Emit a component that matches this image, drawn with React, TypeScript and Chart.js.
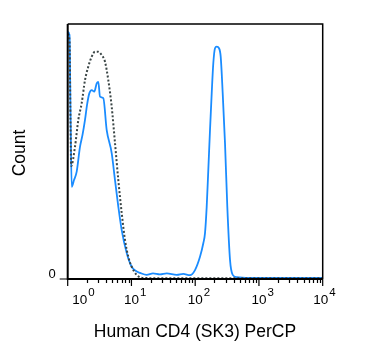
import React, { useEffect, useRef } from "react";
import { Chart, registerables } from "chart.js";

Chart.register(...registerables);

// CD4 stained (blue, solid)
const stainedX = [1.0, 1.067, 1.106, 1.155, 1.256, 1.384, 1.56, 1.707, 1.868, 2.008, 2.182, 2.379, 2.615, 2.851, 3.02, 3.211, 3.618, 4.091, 4.899, 5.521, 6.22, 7.031, 8.425, 10.09, 11.79, 13.62, 17.35, 21.78, 28.04, 35.72, 51.27, 65.07, 82.86, 99.3, 118.9, 134.0, 142.5, 151.5, 160.5, 170.7, 181.5, 192.3, 204.5, 217.4, 236.2, 251.2, 270.1, 293.5, 318.8, 351.6, 387.5, 447.7, 723.8, 3069, 10000];
const stainedY = [96.9, 95.7, 66.3, 36.1, 38.8, 42.1, 51.9, 56.5, 62.4, 68.2, 72.8, 74.1, 73.5, 76.7, 77.3, 71.5, 70.9, 58.4, 49.4, 38.8, 28.4, 19.2, 10.2, 4.8, 3.1, 2.4, 1.6, 2.2, 1.8, 2.2, 1.6, 2.0, 1.5, 3.5, 8.7, 14.0, 18.0, 28.4, 42.7, 58.4, 72.8, 84.6, 90.5, 91.1, 90.5, 87.2, 72.8, 53.2, 28.4, 7.5, 1.6, 0.7, 0.4, 0.4, 0.4];

// Control (dark, dotted)
const controlX = [1.0, 1.067, 1.106, 1.135, 1.302, 1.467, 1.658, 1.868, 2.104, 2.379, 2.681, 3.02, 3.415, 3.847, 4.334, 4.899, 5.521, 6.22, 7.031, 7.921, 8.925, 10.09, 12.09, 15.35, 28.04, 100, 1000, 10000];
const controlY = [96.1, 93.7, 62.4, 44.3, 51.9, 62.4, 69.0, 78.0, 83.3, 87.2, 89.1, 89.1, 87.8, 85.2, 78.0, 67.6, 53.3, 38.8, 25.9, 15.3, 8.7, 4.8, 1.6, 0.4, 0.3, 0.3, 0.3, 0.3];

const xTickExponents = [0, 1, 2, 3, 4];
const yTickLabels = ["0"];
const xTitle = "Human CD4 (SK3) PerCP";
const yTitle = "Count";

const FONT = "'Liberation Sans', Arial, sans-serif";

const decorPlugin = {
  id: "decor",
  afterDraw(chart: any) {
    const ctx = chart.ctx;
    const { left, right, top, bottom } = chart.chartArea;
    const xs = chart.scales.x;
    ctx.save();
    // frame
    ctx.strokeStyle = "#000";
    ctx.lineWidth = 1.5;
    ctx.beginPath();
    ctx.moveTo(left, top);
    ctx.lineTo(right, top);
    ctx.lineTo(right, bottom);
    ctx.stroke();
    ctx.lineWidth = 2;
    ctx.beginPath();
    ctx.moveTo(left, top);
    ctx.lineTo(left, bottom);
    ctx.lineTo(right, bottom);
    ctx.stroke();
    // x ticks
    ctx.lineWidth = 1.2;
    ctx.beginPath();
    for (let d = 0; d < 4; d++) {
      for (let k = 2; k <= 9; k++) {
        const px = Math.round(xs.getPixelForValue(k * Math.pow(10, d))) + 0.5;
        ctx.moveTo(px, bottom);
        ctx.lineTo(px, bottom + 4);
      }
    }
    xTickExponents.forEach((e) => {
      const px = xs.getPixelForValue(Math.pow(10, e));
      ctx.moveTo(px, bottom);
      ctx.lineTo(px, bottom + 7);
    });
    // y tick at 0
    ctx.moveTo(left - 8, bottom);
    ctx.lineTo(left, bottom);
    ctx.stroke();
    // x tick labels
    ctx.fillStyle = "#000";
    ctx.textBaseline = "alphabetic";
    xTickExponents.forEach((e, i) => {
      let cx = xs.getPixelForValue(Math.pow(10, e));
      if (i === 0) cx += 12;
      if (i === xTickExponents.length - 1) cx -= 2;
      ctx.font = `13.5px ${FONT}`;
      ctx.textAlign = "center";
      ctx.fillText("10", cx, bottom + 25);
      const w = ctx.measureText("10").width;
      ctx.font = `11.5px ${FONT}`;
      ctx.textAlign = "left";
      ctx.fillText(String(e), cx + w / 2 + 1, bottom + 17);
    });
    // y tick label
    ctx.font = `13px ${FONT}`;
    ctx.textAlign = "right";
    ctx.textBaseline = "middle";
    ctx.fillText(yTickLabels[0], left - 12, bottom - 5);
    // titles
    ctx.font = `17.5px ${FONT}`;
    ctx.textAlign = "center";
    ctx.textBaseline = "alphabetic";
    ctx.fillText(xTitle, 195, 337);
    ctx.save();
    ctx.translate(25, 153);
    ctx.rotate(-Math.PI / 2);
    ctx.fillText(yTitle, 0, 0);
    ctx.restore();
    ctx.restore();
  },
};

export default function App() {
  const ref = useRef<HTMLCanvasElement | null>(null);
  useEffect(() => {
    if (!ref.current) return;
    const chart = new Chart(ref.current, {
      type: "line",
      data: {
        datasets: [
          {
            label: "Control",
            data: controlX.map((x, i) => ({ x, y: controlY[i] })),
            borderColor: "#3b4646",
            borderWidth: 2,
            borderDash: [2, 2],
            pointRadius: 0,
            fill: false,
            cubicInterpolationMode: "monotone",
          },
          {
            label: "CD4",
            data: stainedX.map((x, i) => ({ x, y: stainedY[i] })),
            borderColor: "#1a8cff",
            borderWidth: 1.8,
            pointRadius: 0,
            fill: false,
            cubicInterpolationMode: "monotone",
          },
        ],
      },
      options: {
        responsive: false,
        animation: false,
        layout: { padding: { left: 67.7, top: 24, right: 52.3, bottom: 81 } },
        plugins: { legend: { display: false }, tooltip: { enabled: false } },
        scales: {
          x: { type: "logarithmic", min: 1, max: 10000, display: false },
          y: { type: "linear", min: 0, max: 100, display: false },
        },
      },
      plugins: [decorPlugin],
    } as any);
    return () => chart.destroy();
  }, []);
  return (
    <div style={{ position: "fixed", left: 0, top: 0, width: 375, height: 360, background: "#fff" }}>
      <canvas ref={ref} width={375} height={360} style={{ display: "block" }} />
    </div>
  );
}
